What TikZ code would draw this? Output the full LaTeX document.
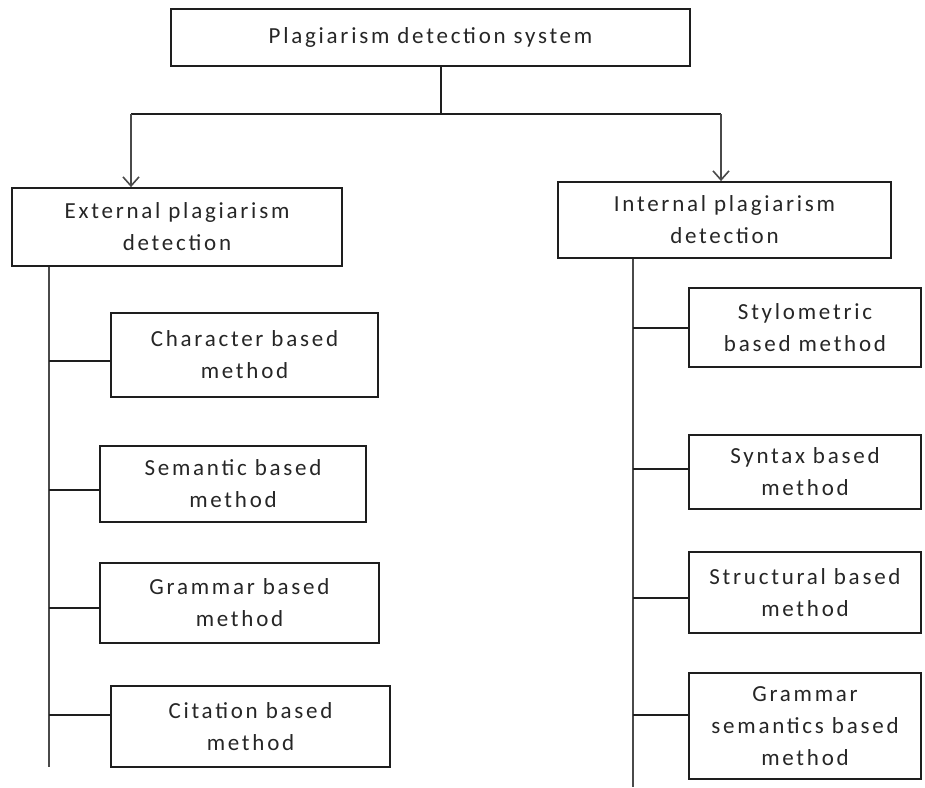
\documentclass[tikz,border=0pt]{standalone}
\usepackage{fontspec}
\newfontfamily\boxfont[LetterSpace=12]{Carlito}
\usetikzlibrary{arrows.meta}
\definecolor{txt}{HTML}{262626}
\definecolor{ln}{HTML}{1E1E1E}
\definecolor{trunk}{HTML}{4A4A4A}
\tikzset{
  box/.style={draw=ln, line width=1.8pt, fill=white, inner sep=0pt, align=center,
    text=txt, font=\boxfont\fontsize{23}{32}\selectfont},
  link/.style={draw=ln, line width=1.6pt},
  trunkline/.style={draw=trunk, line width=2.2pt},
  arr/.style={draw=trunk, line width=2.2pt, -{Straight Barb[length=9pt,width=16pt,line width=1.6pt]}}
}
\begin{document}
\begin{tikzpicture}[x=1pt,y=-1pt]
\useasboundingbox (0,0) rectangle (925,787);
\node[box, minimum width=519pt, minimum height=57pt] (top) at (430.5,37.5) {Plagiarism detection system};
\node[box, minimum width=330pt, minimum height=78pt] (ext) at (177,227) {External plagiarism\\detection};
\node[box, minimum width=333pt, minimum height=76pt] (int) at (724.5,220) {Internal plagiarism\\detection};
\node[box, minimum width=267pt, minimum height=84pt] (char) at (244.5,355) {Character based\\method};
\node[box, minimum width=266pt, minimum height=76pt] (sem) at (233,484) {Semantic based\\method};
\node[box, minimum width=279pt, minimum height=80pt] (gram) at (239.5,603) {Grammar based\\method};
\node[box, minimum width=279pt, minimum height=81pt] (cit) at (250.5,726.5) {Citation based\\method};
\node[box, minimum width=232pt, minimum height=79pt] (sty) at (805,327.5) {Stylometric\\based method};
\node[box, minimum width=232pt, minimum height=74pt] (syn) at (805,472) {Syntax based\\method};
\node[box, minimum width=232pt, minimum height=81pt] (str) at (805,592.5) {Structural based\\method};
\node[box, minimum width=232pt, minimum height=106pt] (gs) at (805,726) {Grammar\\semantics based\\method};
% top connectors
\coordinate (jm) at (441,114);
\coordinate (jl) at (131,114);
\coordinate (jr) at (721,114);
\draw[link] (top.south -| jm) -- (jm);
\draw[link] (jl) -- (jr);
\draw[arr] (jl) -- (jl |- ext.north);
\draw[arr] (jr) -- (jr |- int.north);
% left trunk
\coordinate (le) at (49,767);
\draw[trunkline] (ext.south -| le) -- (le);
\draw[link] (49,361) -- (char.west |- 0,361);
\draw[link] (49,490) -- (sem.west |- 0,490);
\draw[link] (49,608) -- (gram.west |- 0,608);
\draw[link] (49,715) -- (cit.west |- 0,715);
% right trunk
\coordinate (re) at (633,787);
\draw[trunkline] (int.south -| re) -- (re);
\draw[link] (633,328) -- (sty.west |- 0,328);
\draw[link] (633,469) -- (syn.west |- 0,469);
\draw[link] (633,598) -- (str.west |- 0,598);
\draw[link] (633,715) -- (gs.west |- 0,715);
\end{tikzpicture}
\end{document}
